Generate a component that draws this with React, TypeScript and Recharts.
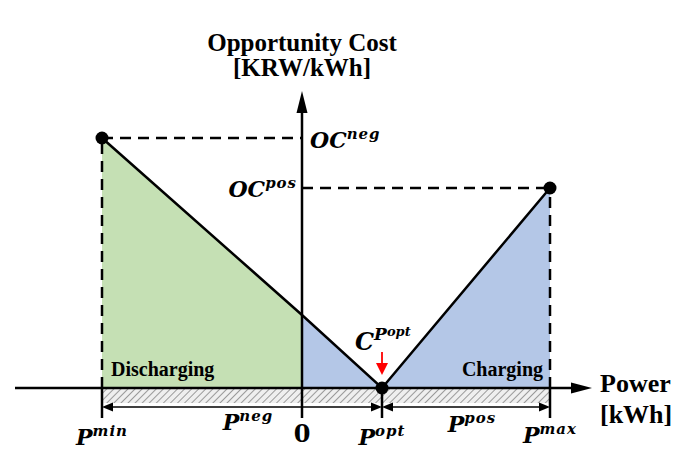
import React from "react";
import {
  ComposedChart,
  Area,
  Line,
  Scatter,
  XAxis,
  YAxis,
  ReferenceLine,
  ReferenceArea,
  ReferenceDot,
} from "recharts";

// power [kWh] at the corners of the curve: P^min, 0, P^opt, P^max
const power = [-5, 0, 2, 6.2];
// opportunity cost [KRW/kWh] along the V-shaped curve
const cost = [10, 2.92, 0, 8];
const dischargingCost = [10, 2.92, null, null];
const chargingCost = [null, 2.92, 0, 8];

const P_MIN = -5;
const P_OPT = 2;
const P_MAX = 6.2;
const OC_NEG = 10;
const OC_POS = 8;

const keyPower = [P_MIN, P_OPT, P_MAX];
const keyCost = [OC_NEG, 0, OC_POS];

const data = power.map((p, i) => ({
  power: p,
  cost: cost[i],
  discharging: dischargingCost[i],
  charging: chargingCost[i],
}));
const dots = keyPower.map((p, i) => ({ power: p, cost: keyCost[i] }));

// extents of the drawn axes, in data units
const X_DOMAIN: [number, number] = [-7.55, 9.775];
const Y_DOMAIN: [number, number] = [-3.16, 15.52];
const X_AXIS_START = -7.175;
const X_AXIS_END = 7.25;
const Y_AXIS_TOP = 11.88;
const TICK_BOTTOM = -1.2;
const BAND_BOTTOM = -0.6;
const DIM_Y = -0.76;

const SERIF = "'Liberation Serif', 'Times New Roman', serif";
const MATH = "'DejaVu Serif', serif";
const GREEN = "#c5e0b4";
const BLUE = "#b4c7e7";

type ArrowOpts = {
  width: number;
  head: number;
  half: number;
  start?: boolean;
  end?: boolean;
  color?: string;
};

function arrowShape(o: ArrowOpts) {
  return (p: any) => {
    const { x1, y1, x2, y2 } = p;
    const len = Math.hypot(x2 - x1, y2 - y1) || 1;
    const ux = (x2 - x1) / len;
    const uy = (y2 - y1) / len;
    const nx = -uy;
    const ny = ux;
    const c = o.color ?? "#000";
    const tri = (tx: number, ty: number, dx: number, dy: number) => {
      const bx = tx - dx * o.head;
      const by = ty - dy * o.head;
      return `${tx},${ty} ${bx + nx * o.half},${by + ny * o.half} ${bx - nx * o.half},${by - ny * o.half}`;
    };
    const sx = o.start ? x1 + ux * o.head * 0.8 : x1;
    const sy = o.start ? y1 + uy * o.head * 0.8 : y1;
    const ex = o.end ? x2 - ux * o.head * 0.8 : x2;
    const ey = o.end ? y2 - uy * o.head * 0.8 : y2;
    return (
      <g>
        <line x1={sx} y1={sy} x2={ex} y2={ey} stroke={c} strokeWidth={o.width} />
        {o.end && <polygon points={tri(x2, y2, ux, uy)} fill={c} />}
        {o.start && <polygon points={tri(x1, y1, -ux, -uy)} fill={c} />}
      </g>
    );
  };
}

type LabelOpts = {
  dx?: number;
  dy?: number;
  anchor?: "start" | "middle" | "end";
  size?: number;
};

function mathLabel(base: string, sup: string, o: LabelOpts = {}) {
  const size = o.size ?? 22;
  return (p: any) => (
    <text
      x={p.cx + (o.dx ?? 0)}
      y={p.cy + (o.dy ?? 0)}
      textAnchor={o.anchor ?? "middle"}
      fontFamily={MATH}
      fontWeight="bold"
      fontStyle="italic"
      fontSize={size}
      fill="#000"
    >
      {base}
      <tspan fontSize={size * 0.68} dy={-size * 0.42} letterSpacing={1}>
        {sup}
      </tspan>
    </text>
  );
}

function textLabel(txt: string, o: LabelOpts & { family?: string }) {
  return (p: any) => (
    <text
      x={p.cx + (o.dx ?? 0)}
      y={p.cy + (o.dy ?? 0)}
      textAnchor={o.anchor ?? "middle"}
      fontFamily={o.family ?? SERIF}
      fontWeight="bold"
      fontSize={o.size ?? 20}
      fill="#000"
    >
      {txt}
    </text>
  );
}

// C^{P^{opt}} needs two levels of superscript
const cPoptLabel = (p: any) => (
  <text
    x={p.cx - 27}
    y={p.cy - 38}
    fontFamily={MATH}
    fontWeight="bold"
    fontStyle="italic"
    fontSize={24}
    fill="#000"
  >
    C
    <tspan fontSize={17} dy={-10}>
      P
    </tspan>
    <tspan fontSize={13} dy={-4}>
      opt
    </tspan>
  </text>
);

const dotShape = (p: any) => <circle cx={p.cx} cy={p.cy} r={6.5} fill="#000" stroke="none" />;

export default function App() {
  return (
    <div style={{ position: "absolute", left: 0, top: 0, width: 693, height: 467, background: "#fff" }}>
      <ComposedChart width={693} height={467} data={data} margin={{ top: 0, right: 0, bottom: 0, left: 0 }}>
        <defs>
          <pattern id="hatch" patternUnits="userSpaceOnUse" width="5" height="5" patternTransform="rotate(45)">
            <rect width="5" height="5" fill="#efefef" />
            <line x1="0" y1="0" x2="0" y2="5" stroke="#9a9a9a" strokeWidth="2" />
          </pattern>
        </defs>
        <XAxis type="number" dataKey="power" domain={X_DOMAIN} allowDataOverflow hide />
        <YAxis type="number" domain={Y_DOMAIN} allowDataOverflow hide />

        <ReferenceArea x1={P_MIN} x2={P_MAX} y1={BAND_BOTTOM} y2={0} fill="url(#hatch)" fillOpacity={1} stroke="none" />

        <Area
          type="linear"
          dataKey="discharging"
          fill={GREEN}
          fillOpacity={1}
          stroke="none"
          baseValue={0}
          dot={false}
          activeDot={false}
          isAnimationActive={false}
        />
        <Area
          type="linear"
          dataKey="charging"
          fill={BLUE}
          fillOpacity={1}
          stroke="none"
          baseValue={0}
          dot={false}
          activeDot={false}
          isAnimationActive={false}
        />

        {/* dashed guides */}
        <ReferenceLine segment={[{ x: P_MIN, y: OC_NEG }, { x: 0, y: OC_NEG }]} stroke="#000" strokeWidth={2.5} strokeDasharray="11 7" />
        <ReferenceLine segment={[{ x: 0, y: OC_POS }, { x: P_MAX, y: OC_POS }]} stroke="#000" strokeWidth={2.5} strokeDasharray="11 7" />
        <ReferenceLine segment={[{ x: P_MIN, y: 0 }, { x: P_MIN, y: OC_NEG }]} stroke="#000" strokeWidth={2.5} strokeDasharray="11 7" />
        <ReferenceLine segment={[{ x: P_MAX, y: 0 }, { x: P_MAX, y: OC_POS }]} stroke="#000" strokeWidth={2.5} strokeDasharray="11 7" />

        {/* tick lines below the power axis */}
        {keyPower.map((p) => (
          <ReferenceLine key={p} segment={[{ x: p, y: 0 }, { x: p, y: TICK_BOTTOM }]} stroke="#000" strokeWidth={2.5} />
        ))}

        {/* axes */}
        <ReferenceLine
          segment={[{ x: X_AXIS_START, y: 0 }, { x: X_AXIS_END, y: 0 }]}
          shape={arrowShape({ width: 2.5, head: 21, half: 5.5, end: true })}
        />
        <ReferenceLine
          segment={[{ x: 0, y: TICK_BOTTOM }, { x: 0, y: Y_AXIS_TOP }]}
          shape={arrowShape({ width: 2.5, head: 22, half: 5.5, end: true })}
        />

        {/* P^neg and P^pos spans */}
        <ReferenceLine
          segment={[{ x: P_MIN, y: DIM_Y }, { x: P_OPT, y: DIM_Y }]}
          shape={arrowShape({ width: 1.5, head: 11, half: 4.5, start: true, end: true })}
        />
        <ReferenceLine
          segment={[{ x: P_OPT, y: DIM_Y }, { x: P_MAX, y: DIM_Y }]}
          shape={arrowShape({ width: 1.5, head: 11, half: 4.5, start: true, end: true })}
        />

        <Line
          type="linear"
          dataKey="cost"
          stroke="#000"
          strokeWidth={2.5}
          dot={false}
          activeDot={false}
          isAnimationActive={false}
        />

        {/* red marker above P^opt */}
        <ReferenceLine
          segment={[{ x: P_OPT, y: 1.44 }, { x: P_OPT, y: 0.52 }]}
          shape={arrowShape({ width: 1.8, head: 12, half: 6, end: true, color: "#ff0000" })}
        />

        {/* labels */}
        <ReferenceDot x={0} y={Y_AXIS_TOP} r={1} shape={textLabel("Opportunity Cost", { dy: -40, size: 25 })} />
        <ReferenceDot x={0} y={Y_AXIS_TOP} r={1} shape={textLabel("[KRW/kWh]", { dy: -15, size: 25 })} />
        <ReferenceDot x={X_AXIS_END} y={0} r={1} shape={textLabel("Power", { dx: 8, dy: 4, size: 26, anchor: "start" })} />
        <ReferenceDot x={X_AXIS_END} y={0} r={1} shape={textLabel("[kWh]", { dx: 8, dy: 35, size: 26, anchor: "start" })} />
        <ReferenceDot x={P_MIN} y={0} r={1} shape={textLabel("Discharging", { dx: 9, dy: -12, anchor: "start" })} />
        <ReferenceDot x={P_MAX} y={0} r={1} shape={textLabel("Charging", { dx: -7, dy: -12, anchor: "end" })} />

        <ReferenceDot x={0} y={OC_NEG} r={1} shape={mathLabel("OC", "neg", { dx: 8, dy: 10, anchor: "start" })} />
        <ReferenceDot x={0} y={OC_POS} r={1} shape={mathLabel("OC", "pos", { dx: -5, dy: 9, anchor: "end" })} />
        <ReferenceDot x={P_OPT} y={0} r={1} shape={cPoptLabel} />

        <ReferenceDot x={P_MIN} y={0} r={1} shape={mathLabel("P", "min", { dy: 57 })} />
        <ReferenceDot x={(P_MIN + P_OPT) / 2} y={0} r={1} shape={mathLabel("P", "neg", { dx: 6, dy: 42 })} />
        <ReferenceDot x={0} y={0} r={1} shape={textLabel("0", { dy: 54, size: 24, family: MATH })} />
        <ReferenceDot x={P_OPT} y={0} r={1} shape={mathLabel("P", "opt", { dy: 57 })} />
        <ReferenceDot x={(P_OPT + P_MAX) / 2} y={0} r={1} shape={mathLabel("P", "pos", { dx: 6, dy: 44 })} />
        <ReferenceDot x={P_MAX} y={0} r={1} shape={mathLabel("P", "max", { dy: 55 })} />

        <Scatter data={dots} dataKey="cost" fill="#000" isAnimationActive={false} shape={dotShape} />
      </ComposedChart>
    </div>
  );
}
